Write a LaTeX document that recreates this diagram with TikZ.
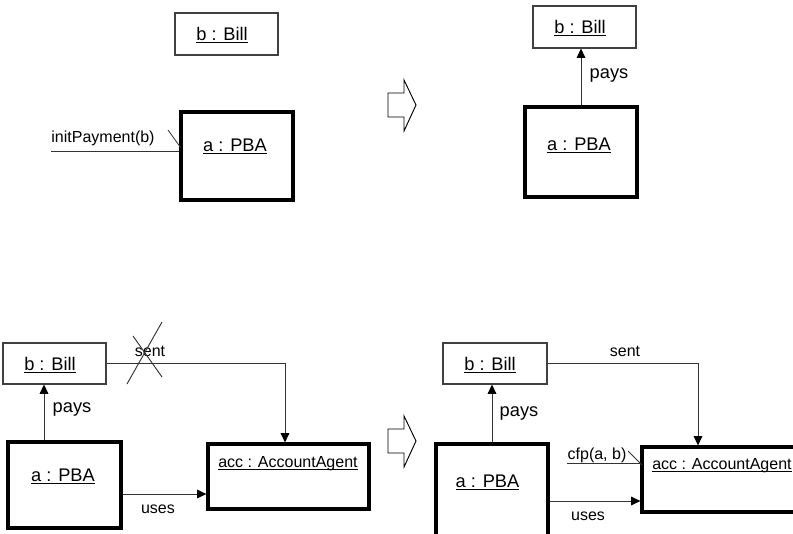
\documentclass[tikz,border=0pt]{standalone}
\usepackage{fontspec}
\setmainfont{Liberation Sans}
\usetikzlibrary{arrows.meta}
\newcommand\myul[1]{\setbox0\hbox{#1}\rlap{\rule[-1.6pt]{\wd0}{0.55pt}}\box0}
\begin{document}
\begin{tikzpicture}[x=0.75pt,y=-0.75pt,
  thinbox/.style={draw=black!75,line width=0.8pt,rectangle,inner sep=0pt},
  thickbox/.style={draw=black,line width=2.4pt,rectangle,inner sep=0pt},
  bigtxt/.style={inner sep=0pt,font=\fontsize{13.7}{16}\selectfont},
  smalltxt/.style={inner sep=0pt,font=\fontsize{12}{14}\selectfont},
  conn/.style={draw=black!80,line width=0.7pt},
  arr/.style={conn,-{Triangle[length=7pt,width=6.5pt,color=black]}},
  hollow/.style={draw=black,line width=0.7pt,fill=white}]
\useasboundingbox (0,0) rectangle (793,533);

% ---------- top left ----------
\node[thinbox,minimum width=103*0.75pt,minimum height=42*0.75pt] (bill1) at (226.5,34) {};
\node[bigtxt] (bill1t) at (222,35) {\myul{b : Bill}};
\node[thickbox,minimum width=112*0.75pt,minimum height=88*0.75pt] (a1) at (237,156) {};
\node[bigtxt] (a1t) at (235,146) {\myul{a : PBA}};
\coordinate (ip) at (51,151);
\draw[conn] (ip) -- (ip -| a1.west);
\node[smalltxt] (iplab) at (103,138) {initPayment(b)};
\coordinate (t1a) at (168,130);
\coordinate (t1b) at (181,148);
\draw[conn,line width=0.6pt] (t1a) -- (t1b);

% hollow arrow 1
\draw[hollow] (388,93) -- (404,93) -- (404,80) -- (416,105) -- (404,131) -- (404,117) -- (388,117) -- cycle;

% ---------- top right ----------
\node[thinbox,minimum width=103*0.75pt,minimum height=42*0.75pt] (bill2) at (584.5,27) {};
\node[bigtxt] (bill2t) at (580,28) {\myul{b : Bill}};
\node[thickbox,minimum width=112*0.75pt,minimum height=90*0.75pt] (a2) at (581,152) {};
\node[bigtxt] (a2t) at (579,145) {\myul{a : PBA}};
\coordinate (x2) at (581,0);
\draw[arr] (a2.north -| x2) -- (bill2.south -| x2);
\node[bigtxt] (pays2) at (609,75) {pays};

% ---------- bottom left ----------
\node[thinbox,minimum width=103*0.75pt,minimum height=41*0.75pt] (bill3) at (54.5,363.5) {};
\node[bigtxt] (bill3t) at (50,365) {\myul{b : Bill}};
\node[thickbox,minimum width=113*0.75pt,minimum height=86*0.75pt] (a3) at (64.5,485) {};
\node[bigtxt] (a3t) at (63,476) {\myul{a : PBA}};
\node[thickbox,minimum width=161*0.75pt,minimum height=65*0.75pt] (acc3) at (288.5,476.5) {};
\node[smalltxt,anchor=west] (acc3t) at (218,464) {\myul{acc : AccountAgent}};
\coordinate (x3) at (44,0);
\draw[arr] (a3.north -| x3) -- (bill3.south -| x3);
\node[bigtxt] (pays3) at (72,409) {pays};
\coordinate (s3) at (285,363);
\draw[arr] (bill3.east |- s3) -- (s3) -- (acc3.north -| s3);
\node[smalltxt] (sent3) at (150,351) {sent};
\coordinate (c1a) at (127,384);
\coordinate (c1b) at (162,322);
\coordinate (c2a) at (133,336);
\coordinate (c2b) at (162,377);
\draw[conn] (c1a) -- (c1b);
\draw[conn] (c2a) -- (c2b);
\coordinate (u3) at (0,494);
\draw[arr] (a3.east |- u3) -- (acc3.west |- u3);
\node[smalltxt] (uses3) at (158,509) {uses};

% hollow arrow 2
\draw[hollow] (388,429) -- (404,429) -- (404,416) -- (416,441) -- (404,467) -- (404,453) -- (388,453) -- cycle;

% ---------- bottom right ----------
\node[thinbox,minimum width=104*0.75pt,minimum height=41*0.75pt] (bill4) at (495,363.5) {};
\node[bigtxt] (bill4t) at (490,365) {\myul{b : Bill}};
\node[thickbox,minimum width=112*0.75pt,minimum height=94*0.75pt] (a4) at (492,491) {};
\node[bigtxt] (a4t) at (487.5,482) {\myul{a : PBA}};
\node[thickbox,minimum width=158*0.75pt,minimum height=65*0.75pt] (acc4) at (721,479.5) {};
\node[smalltxt,anchor=west] (acc4t) at (652,466) {\myul{acc : AccountAgent}};
\coordinate (x4) at (492,0);
\draw[arr] (a4.north -| x4) -- (bill4.south -| x4);
\node[bigtxt] (pays4) at (519,413) {pays};
\coordinate (s4) at (698,363);
\draw[arr] (bill4.east |- s4) -- (s4) -- (acc4.north -| s4);
\node[smalltxt] (sent4) at (625,351) {sent};
\coordinate (u4) at (0,501);
\draw[arr] (a4.east |- u4) -- (acc4.west |- u4);
\node[smalltxt] (uses4) at (588,516) {uses};
\coordinate (cf) at (567,463);
\draw[conn] (cf) -- (cf -| acc4.west);
\node[smalltxt] (cflab) at (597,455) {cfp(a, b)};
\coordinate (t4a) at (628,451);
\coordinate (t4b) at (642,465);
\draw[conn,line width=0.6pt] (t4a) -- (t4b);
\end{tikzpicture}
\end{document}
